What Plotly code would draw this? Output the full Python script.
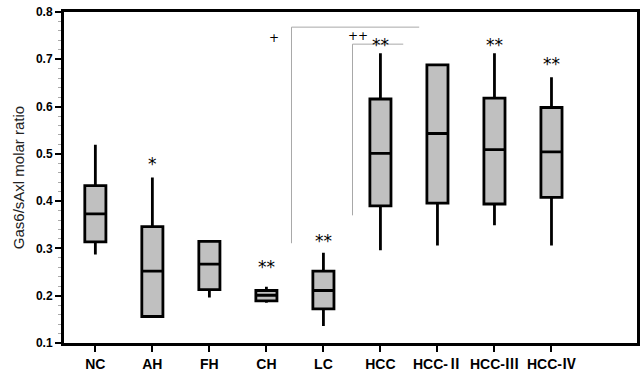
import plotly.graph_objects as go

# ---- data ----
categories = ["NC", "AH", "FH", "CH", "LC", "HCC", "HCC-Ⅱ", "HCC-Ⅲ", "HCC-Ⅳ"]
lower_whisker = [0.287, 0.156, 0.196, 0.185, 0.136, 0.296, 0.306, 0.349, 0.306]
q1_values     = [0.314, 0.156, 0.213, 0.189, 0.172, 0.390, 0.396, 0.394, 0.408]
medians       = [0.373, 0.252, 0.267, 0.201, 0.211, 0.501, 0.543, 0.509, 0.504]
q3_values     = [0.433, 0.346, 0.315, 0.211, 0.252, 0.616, 0.688, 0.618, 0.598]
upper_whisker = [0.519, 0.450, 0.318, 0.219, 0.291, 0.713, 0.691, 0.713, 0.662]

# significance marks: (category index, y value, text)
star_idx   = [1, 3, 4, 5, 7, 8]
star_y     = [0.479, 0.260, 0.315, 0.730, 0.730, 0.690]
star_text  = ["*", "**", "**", "**", "**", "**"]

# bracket marks (x in category units, y in data units)
plus_x    = [3.14, 4.60]
plus_y    = [0.745, 0.750]
plus_text = ["+", "++"]
bracket_x0   = [3.44, 4.51]
bracket_x1   = [5.68, 5.40]
bracket_top  = [0.768, 0.732]
bracket_bot  = [0.311, 0.370]

positions = list(range(len(categories)))

fig = go.Figure()
fig.add_trace(go.Box(
    x=positions,
    q1=q1_values, median=medians, q3=q3_values,
    lowerfence=lower_whisker, upperfence=upper_whisker,
    width=0.37, whiskerwidth=0,
    line=dict(color="black", width=2.8),
    fillcolor="#c0c0c0",
    boxpoints=False,
    showlegend=False,
    hoverinfo="skip",
))

for i, y, t in zip(star_idx, star_y, star_text):
    fig.add_annotation(x=i, y=y, text=t, showarrow=False,
                       font=dict(family="DejaVu Sans", size=17, color="black"),
                       xanchor="center", yanchor="middle")

for x, y, t in zip(plus_x, plus_y, plus_text):
    fig.add_annotation(x=x, y=y, text=t, showarrow=False,
                       font=dict(family="DejaVu Sans", size=12, color="black"),
                       xanchor="center", yanchor="middle")

for x0, x1, yt, yb in zip(bracket_x0, bracket_x1, bracket_top, bracket_bot):
    fig.add_shape(type="line", x0=x0, x1=x0, y0=yb, y1=yt, xref="x", yref="y",
                  line=dict(color="#a8a8a8", width=1))
    fig.add_shape(type="line", x0=x0, x1=x1, y0=yt, y1=yt, xref="x", yref="y",
                  line=dict(color="#a8a8a8", width=1))

fig.update_layout(
    width=640, height=386,
    margin=dict(l=64, r=3, t=12, b=43, autoexpand=False),
    paper_bgcolor="white", plot_bgcolor="white",
    showlegend=False,
)
fig.update_xaxes(
    range=[-0.55, 9.5], tickmode="array", tickvals=positions,
    ticktext=["<b>%s</b>" % c for c in categories],
    showgrid=False, zeroline=False, automargin=False,
    showline=True, linecolor="black", linewidth=3, mirror=True,
    ticks="outside", ticklen=6, tickwidth=2, tickcolor="black",
    tickfont=dict(family="Liberation Sans, Noto Sans CJK JP", size=14, color="black"),
)
fig.update_yaxes(
    range=[0.1, 0.8], tickmode="linear", tick0=0, dtick=0.1, tickformat=".1f",
    tickprefix="<b>", ticksuffix="</b>",
    showgrid=False, zeroline=False, automargin=False,
    showline=True, linecolor="black", linewidth=3, mirror=True,
    ticks="outside", ticklen=6, tickwidth=2, tickcolor="black",
    minor=dict(tickmode="linear", dtick=0.02, ticks="outside", ticklen=3,
               tickcolor="#aaaaaa", tickwidth=1, showgrid=False),
    tickfont=dict(family="Liberation Sans, Arial", size=12, color="black"),
    title=dict(text="Gas6/sAxl molar ratio", standoff=8,
               font=dict(family="Liberation Sans, Arial", size=15, color="#222222")),
)

fig.write_html("out.html", config={"displayModeBar": False},
               post_script="document.body.style.margin='0';")
